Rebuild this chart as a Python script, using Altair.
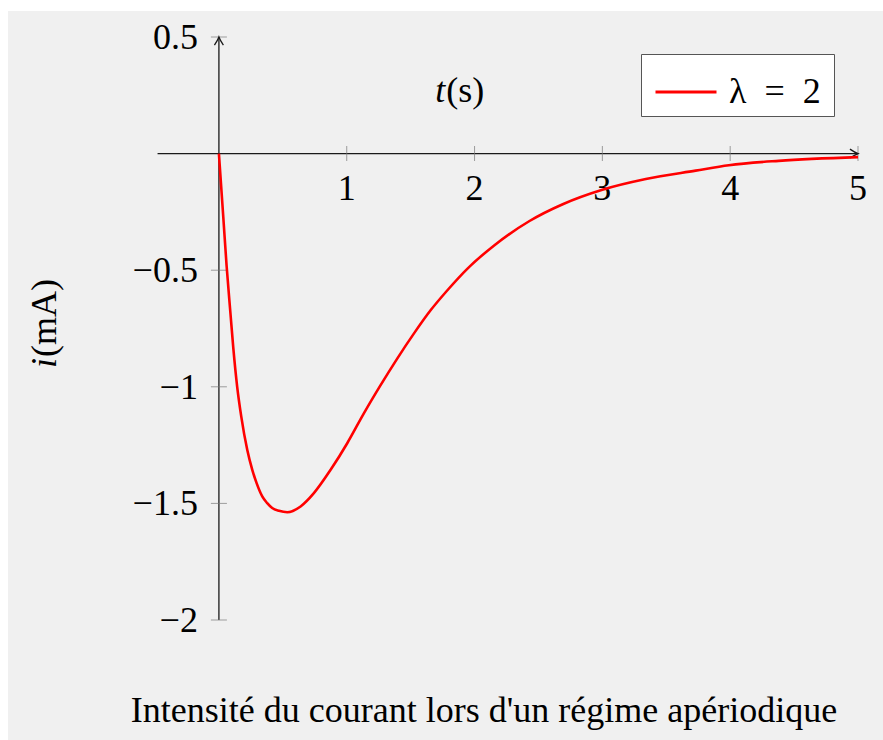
import altair as alt
import pandas as pd

# Current i(t) in mA during an overdamped (aperiodic) transient
t_s = [0.0, 0.034, 0.060, 0.091, 0.112, 0.143, 0.175, 0.222, 0.261, 0.295,
       0.339, 0.378, 0.417, 0.470, 0.535, 0.639, 0.743, 0.874, 1.004, 1.134,
       1.265, 1.395, 1.525, 1.656, 1.786, 1.943, 2.151, 2.43, 2.69, 3.0,
       3.34, 3.73, 3.99, 4.38, 5.0]
i_mA = [0.0, -0.27, -0.48, -0.69, -0.83, -1.0, -1.128, -1.271, -1.356, -1.413,
        -1.470, -1.499, -1.520, -1.532, -1.538, -1.513, -1.456, -1.356, -1.242, -1.114,
        -0.993, -0.879, -0.772, -0.672, -0.587, -0.494, -0.395, -0.289, -0.217, -0.155,
        -0.109, -0.073, -0.050, -0.031, -0.015]
# legend entry; the thin space plus zero-width space keeps some room after the "2"
series_name = "λ\u2002=\u20022\u2009\u200b"

x_ticks = [1, 2, 3, 4, 5]
x_tick_labels = ["1", "2", "3", "4", "5"]
y_ticks = [0.5, -0.5, -1, -1.5, -2]
y_tick_labels = ["0.5", "−0.5", "−1", "−1.5", "−2"]

title_text = "Intensité du courant lors d'un régime apériodique"

X_DOMAIN = [-0.5, 5]
Y_DOMAIN = [-2, 0.5]
W, H = 703, 583
FONT = "Liberation Serif, 'Times New Roman', 'DejaVu Serif', serif"
FS = 36
INK = "#1a1a1a"

xs = alt.Scale(domain=X_DOMAIN, nice=False, zero=False)
ys = alt.Scale(domain=Y_DOMAIN, nice=False, zero=False)


def X(field):
    return alt.X(f"{field}:Q", scale=xs, axis=None)


def Y(field):
    return alt.Y(f"{field}:Q", scale=ys, axis=None)


curve = pd.DataFrame({"t": t_s, "i": i_mA, "serie": series_name})
xt = pd.DataFrame({"x": x_ticks, "y": 0, "lab": x_tick_labels})
yt = pd.DataFrame({"x": 0, "y": y_ticks, "lab": y_tick_labels})
one = pd.DataFrame({"k": [0]})

# page backdrop
backdrop = alt.Chart(one).mark_rect(color="#f0f0f0").encode(
    x=alt.value(-147), x2=alt.value(730), y=alt.value(-26), y2=alt.value(710)
)

# axis lines crossing at the origin
x_axis = alt.Chart(pd.DataFrame({"x": [-0.48], "x2": [5.0], "y": [0]})).mark_rule(
    color=INK, strokeWidth=1.3
).encode(x=X("x"), x2="x2", y=Y("y"))
y_axis = alt.Chart(pd.DataFrame({"x": [0], "y": [-2.0], "y2": [0.5]})).mark_rule(
    color=INK, strokeWidth=1.3
).encode(x=X("x"), y=Y("y"), y2="y2")

arrow_right = "M-1.8,-1 Q-0.7,-0.25 0,0 Q-0.7,0.25 -1.8,1"
arrow_up = "M-1,1.8 Q-0.25,0.7 0,0 Q0.25,0.7 1,1.8"
x_arrow = alt.Chart(pd.DataFrame({"x": [5.0], "y": [0]})).mark_point(
    shape=arrow_right, size=80, filled=False, color=INK, strokeWidth=1.3, opacity=1
).encode(x=X("x"), y=Y("y"))
y_arrow = alt.Chart(pd.DataFrame({"x": [0], "y": [0.5]})).mark_point(
    shape=arrow_up, size=80, filled=False, color=INK, strokeWidth=1.3, opacity=1
).encode(x=X("x"), y=Y("y"))

# tick marks
x_tick_marks = alt.Chart(xt).mark_tick(
    orient="vertical", size=15, thickness=1, color="#777777"
).encode(x=X("x"), y=Y("y"))
y_tick_marks = alt.Chart(yt).mark_tick(
    orient="horizontal", size=16, thickness=1, color="#777777"
).encode(x=X("x"), y=Y("y"))

# tick labels
x_tick_text = alt.Chart(xt).mark_text(
    font=FONT, fontSize=FS, color="black", align="center", baseline="alphabetic", dy=46
).encode(x=X("x"), y=Y("y"), text="lab:N")
y_tick_text = alt.Chart(yt).mark_text(
    font=FONT, fontSize=FS, color="black", align="right", baseline="alphabetic", dx=-21, dy=12
).encode(x=X("x"), y=Y("y"), text="lab:N")

# axis names
t_label = alt.Chart(pd.DataFrame({"x": [1.77], "y": [0.27]})).mark_text(
    font=FONT, fontSize=FS, fontStyle="italic", color="black", align="right", baseline="middle"
).encode(x=X("x"), y=Y("y"), text=alt.value("t"))
s_label = alt.Chart(pd.DataFrame({"x": [1.77], "y": [0.27]})).mark_text(
    font=FONT, fontSize=FS, color="black", align="left", baseline="middle", dx=1
).encode(x=X("x"), y=Y("y"), text=alt.value("(s)"))
i_label = alt.Chart(pd.DataFrame({"x": [-1.36], "y": [-0.876]})).mark_text(
    font=FONT, fontSize=FS, fontStyle="italic", color="black", align="right",
    baseline="middle", angle=270
).encode(x=X("x"), y=Y("y"), text=alt.value("i"))
ma_label = alt.Chart(pd.DataFrame({"x": [-1.36], "y": [-0.876]})).mark_text(
    font=FONT, fontSize=FS, color="black", align="left", baseline="middle", angle=270, dx=1
).encode(x=X("x"), y=Y("y"), text=alt.value("(mA)"))

# caption under the plot
caption = alt.Chart(one).mark_text(
    font=FONT, fontSize=FS, color="black", align="center", baseline="alphabetic"
).encode(x=alt.value(329), y=alt.value(685), text=alt.value(title_text))

# the current curve
line = alt.Chart(curve).mark_line(strokeWidth=2.6, interpolate="monotone").encode(
    x=X("t"),
    y=Y("i"),
    color=alt.Color(
        "serie:N",
        scale=alt.Scale(domain=[series_name], range=["#ff0000"]),
        legend=alt.Legend(
            title=None,
            orient="none",
            legendX=486,
            legendY=17,
            fillColor="white",
            strokeColor="#555555",
            padding=6,
            symbolOffset=7,
            symbolType="stroke",
            symbolSize=3721,
            symbolStrokeWidth=3,
            labelFont=FONT,
            labelFontSize=FS,
            labelColor="black",
            labelOffset=11,
        ),
    ),
)

chart = alt.layer(
    backdrop, x_axis, y_axis, x_tick_marks, y_tick_marks, x_arrow, y_arrow,
    x_tick_text, y_tick_text, t_label, s_label, i_label, ma_label, caption, line,
).properties(
    width=W,
    height=H,
    autosize=alt.AutoSizeParams(type="none"),
    padding={"left": 155, "top": 37, "right": 25, "bottom": 120},
    background="white",
).configure_view(stroke=None)

chart.save("out.html", embed_options={"renderer": "svg", "actions": False})
